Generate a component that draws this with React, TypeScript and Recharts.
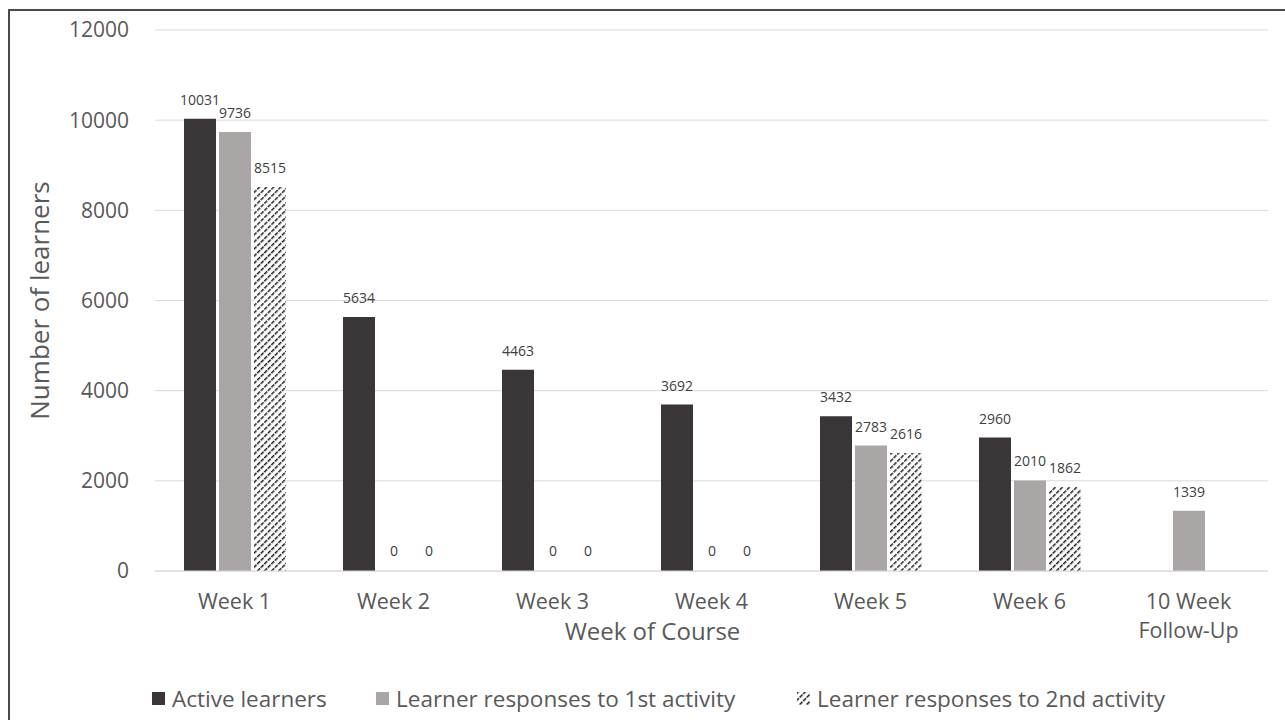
import React from 'react';
import { BarChart, Bar, XAxis, YAxis, CartesianGrid, LabelList, Cell } from 'recharts';

const weeks = ['Week 1', 'Week 2', 'Week 3', 'Week 4', 'Week 5', 'Week 6', '10 Week Follow-Up'];
const activeLearners = [10031, 5634, 4463, 3692, 3432, 2960, null];
const firstActivity = [9736, 0, 0, 0, 2783, 2010, 1339];
const secondActivity = [8515, 0, 0, 0, 2616, 1862, null];
const yTicks = [0, 2000, 4000, 6000, 8000, 10000, 12000];

const data = weeks.map((week, i) => ({
  week,
  active: activeLearners[i],
  first: firstActivity[i],
  second: secondActivity[i],
}));

const FONT = '"Open Sans", sans-serif';
const TEXT = '#595959';
const DARK = '#3a3536';
const GRAY = '#aaa6a5';

const WeekTick = (props: any) => {
  const { x, y, payload } = props;
  const label: string = payload.value;
  const lines = label === '10 Week Follow-Up' ? ['10 Week', 'Follow-Up'] : [label];
  return (
    <g>
      {lines.map((l, i) => (
        <text
          key={l}
          x={x}
          y={y + 36 + i * 29}
          textAnchor="middle"
          fill={TEXT}
          fontSize={21.5}
          fontFamily={FONT}
        >
          {l}
        </text>
      ))}
    </g>
  );
};

const labelStyle = { fontSize: 14, fill: '#404040', fontFamily: FONT };

// zero / missing values get an invisible 1px bar so their "0" label still shows
const cellsFor = (values: (number | null)[], fill: string) =>
  values.map((v, i) => <Cell key={i} fill={v ? fill : 'transparent'} />);

const Swatch = ({ fill }: { fill: string }) => (
  <svg width={13} height={13} style={{ display: 'block' }}>
    <rect width={13} height={13} fill={fill} />
  </svg>
);

const legendItems = [
  { left: 152, fill: DARK, text: 'Active learners' },
  { left: 376, fill: GRAY, text: 'Learner responses to 1st activity' },
  { left: 797, fill: 'url(#hatch)', text: 'Learner responses to 2nd activity' },
];

export default function App() {
  return (
    <div style={{ position: 'absolute', left: 0, top: 0, width: 1285, height: 720, background: '#fff' }}>
      <div
        style={{
          position: 'absolute',
          left: 8,
          top: 9,
          right: 0,
          bottom: 0,
          borderLeft: '2px solid #4a4a4a',
          borderTop: '2px solid #4a4a4a',
        }}
      />
      <div style={{ position: 'absolute', left: 0, top: 0 }}>
        <BarChart
          width={1285}
          height={720}
          data={data}
          margin={{ top: 30, right: 17, left: 0, bottom: 0 }}
          barSize={32}
          barGap={3}
        >
          <defs>
            <pattern id="hatch" patternUnits="userSpaceOnUse" width={5} height={5} patternTransform="rotate(45)">
              <rect width={5} height={5} fill="#fff" />
              <line x1={0} y1={0} x2={0} y2={5} stroke="#1e1e1e" strokeWidth={3} strokeDasharray="2 1" />
            </pattern>
          </defs>
          <CartesianGrid vertical={false} stroke="#d9d9d9" />
          <XAxis
            dataKey="week"
            height={149}
            tickLine={false}
            tickSize={0}
            axisLine={{ stroke: '#d9d9d9' }}
            tick={<WeekTick />}
            interval={0}
            label={{
              value: 'Week of Course',
              position: 'insideTop',
              dx: -59,
              dy: 47,
              fill: TEXT,
              fontSize: 24,
              fontFamily: FONT,
            }}
          />
          <YAxis
            width={155}
            domain={[0, 12000]}
            ticks={yTicks}
            tickLine={false}
            tickSize={0}
            tickMargin={26}
            axisLine={false}
            tick={{ fill: TEXT, fontSize: 21, fontFamily: FONT }}
            label={{
              value: 'Number of learners',
              angle: -90,
              position: 'insideLeft',
              offset: 40,
              fill: TEXT,
              fontSize: 26,
              fontFamily: FONT,
              style: { textAnchor: 'middle' },
            }}
          />
          <Bar dataKey="active" fill={DARK} minPointSize={1} isAnimationActive={false}>
            {cellsFor(activeLearners, DARK)}
            <LabelList dataKey="active" position="top" offset={14} style={labelStyle} />
          </Bar>
          <Bar dataKey="first" fill={GRAY} minPointSize={1} isAnimationActive={false}>
            {cellsFor(firstActivity, GRAY)}
            <LabelList dataKey="first" position="top" offset={14} style={labelStyle} />
          </Bar>
          <Bar dataKey="second" fill="url(#hatch)" minPointSize={1} isAnimationActive={false}>
            {cellsFor(secondActivity, 'url(#hatch)')}
            <LabelList dataKey="second" position="top" offset={14} style={labelStyle} />
          </Bar>
        </BarChart>
      </div>
      {legendItems.map((item) => (
        <div
          key={item.text}
          style={{
            position: 'absolute',
            left: item.left,
            top: 683,
            display: 'flex',
            alignItems: 'center',
            height: 30,
            fontFamily: FONT,
            fontSize: 22.5,
            color: TEXT,
            whiteSpace: 'nowrap',
          }}
        >
          <Swatch fill={item.fill} />
          <span style={{ marginLeft: 7 }}>{item.text}</span>
        </div>
      ))}
    </div>
  );
}
